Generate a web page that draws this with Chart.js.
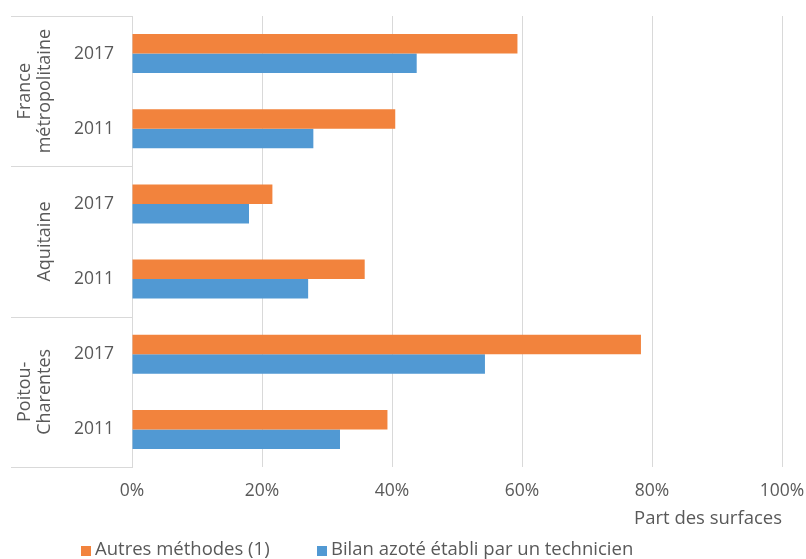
<!DOCTYPE html>
<html lang="fr">
<head>
<meta charset="utf-8">
<script src="https://cdn.jsdelivr.net/npm/chart.js@4.4.1/dist/chart.umd.min.js"></script>
<style>
  html, body { margin: 0; padding: 0; background: #ffffff; }
  #wrap { width: 806px; height: 559px; position: relative; }
</style>
</head>
<body>
<div id="wrap"><canvas id="chart" width="806" height="559"></canvas></div>
<script>
// Année de chaque barre (axe vertical), de haut en bas
const years = ['2017', '2011', '2017', '2011', '2017', '2011'];
// Régions regroupant les années (lignes du libellé pivoté)
const regionLines = [['France', 'métropolitaine'], ['Aquitaine'], ['Poitou-', 'Charentes']];
const regionSizes = [2, 2, 2];
// Part des surfaces (%) par méthode
const autresMethodes = [59.3, 40.5, 21.6, 35.8, 78.3, 39.3];
const bilanTechnicien = [43.8, 27.9, 18.0, 27.1, 54.3, 32.0];
const seriesNames = ['Autres méthodes (1)', 'Bilan azoté établi par un technicien'];
const xTicks = [0, 20, 40, 60, 80, 100];
const xTitle = 'Part des surfaces';

const FONT = '"Open Sans", sans-serif';
const TICK_SIZE = 17.5;
const TEXT_SIZE = 18.5;
const GREY = '#595959';
const LINE = '#d9d9d9';
const ORANGE = '#f2833d';
const BLUE = '#5199d3';

// Libellés de régions pivotés et séparateurs à gauche de l'axe
const regionPlugin = {
  id: 'regionLabels',
  afterDraw(chart) {
    const ys = chart.scales.y;
    const area = chart.chartArea;
    const ctx = chart.ctx;
    const band = ys.getPixelForValue(1) - ys.getPixelForValue(0);
    ctx.save();
    ctx.strokeStyle = LINE;
    ctx.lineWidth = 1;
    let start = 0;
    const edges = [ys.getPixelForValue(0) - band / 2];
    regionSizes.forEach(n => {
      start += n;
      edges.push(ys.getPixelForValue(start - 1) + band / 2);
    });
    edges.forEach(e => {
      const yy = Math.round(e) + 0.5;
      ctx.beginPath();
      ctx.moveTo(11, yy);
      ctx.lineTo(area.left, yy);
      ctx.stroke();
    });
    ctx.fillStyle = GREY;
    ctx.font = '18px ' + FONT;
    ctx.textAlign = 'center';
    ctx.textBaseline = 'middle';
    regionLines.forEach((lines, i) => {
      const cy = (edges[i] + edges[i + 1]) / 2;
      lines.forEach((t, j) => {
        const x = 45 - 20 * (lines.length - 1 - j);
        ctx.save();
        ctx.translate(x, cy);
        ctx.rotate(-Math.PI / 2);
        ctx.fillText(t, 0, 0);
        ctx.restore();
      });
    });
    ctx.restore();
  }
};

// Légende en bas du graphique
const legendPlugin = {
  id: 'bottomLegend',
  afterDraw(chart) {
    const ctx = chart.ctx;
    ctx.save();
    ctx.font = TEXT_SIZE + 'px ' + FONT;
    ctx.textBaseline = 'middle';
    ctx.textAlign = 'left';
    const starts = [81, 317];
    chart.data.datasets.forEach((ds, i) => {
      const x = starts[i];
      ctx.fillStyle = ds.backgroundColor;
      ctx.fillRect(x, 546, 10, 10);
      ctx.fillStyle = GREY;
      ctx.fillText(ds.label, x + 14, 550);
    });
    ctx.restore();
  }
};

new Chart(document.getElementById('chart'), {
  type: 'bar',
  data: {
    labels: years,
    datasets: [
      { label: seriesNames[0], data: autresMethodes, backgroundColor: ORANGE,
        barPercentage: 1, categoryPercentage: 0.518 },
      { label: seriesNames[1], data: bilanTechnicien, backgroundColor: BLUE,
        barPercentage: 1, categoryPercentage: 0.518 }
    ]
  },
  options: {
    indexAxis: 'y',
    responsive: false,
    animation: false,
    devicePixelRatio: 1,
    layout: { autoPadding: false, padding: { top: 16, right: 24, left: 0, bottom: 0 } },
    plugins: {
      legend: { display: false },
      tooltip: { enabled: false }
    },
    scales: {
      x: {
        min: 0,
        max: 100,
        afterBuildTicks: s => { s.ticks = xTicks.map(v => ({ value: v })); },
        afterFit: s => { s.height = 559 - 467; },
        grid: { color: LINE, lineWidth: 1, drawTicks: true, tickLength: 14, tickColor: 'rgba(0,0,0,0)' },
        border: { display: false },
        ticks: {
          padding: 0,
          color: GREY,
          font: { family: FONT, size: TICK_SIZE },
          callback: v => v + '%'
        },
        title: {
          display: true,
          text: xTitle,
          align: 'end',
          color: GREY,
          font: { family: FONT, size: TEXT_SIZE },
          padding: { top: 0, bottom: 29 }
        }
      },
      y: {
        afterFit: s => { s.width = 132; },
        grid: { display: true, drawOnChartArea: false, color: 'rgba(0,0,0,0)',
                drawTicks: true, tickLength: 18, tickColor: 'rgba(0,0,0,0)' },
        border: { display: true, color: LINE, width: 1 },
        ticks: {
          padding: 0,
          color: GREY,
          font: { family: FONT, size: TICK_SIZE }
        }
      }
    }
  },
  plugins: [regionPlugin, legendPlugin]
});
</script>
</body>
</html>
